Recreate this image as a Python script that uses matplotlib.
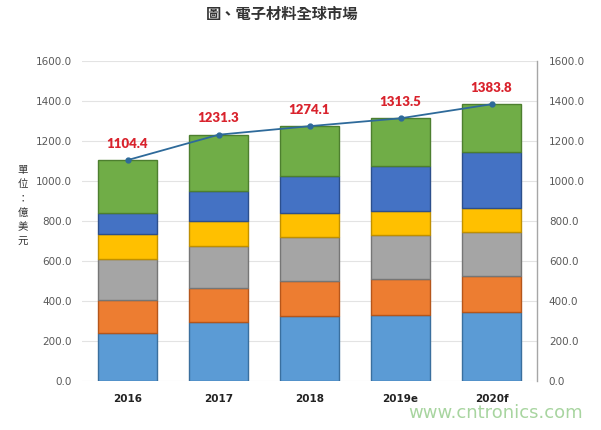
import matplotlib
matplotlib.use("Agg")
import matplotlib.pyplot as plt
import numpy as np

plt.rcParams['font.family'] = ['Noto Sans CJK TC', 'DejaVu Sans']

categories = ["2016", "2017", "2018", "2019e", "2020f"]
s1 = [242, 297, 325, 330, 347]      # light blue
s2 = [163, 170, 175, 178, 178]      # orange
s3 = [203, 208, 218, 222, 218]      # gray
s4 = [127, 125, 120, 122, 120]      # yellow
s5 = [106, 152, 187, 225, 284]      # blue
totals = [1104.4, 1231.3, 1274.1, 1313.5, 1383.8]
ticks = [0, 200, 400, 600, 800, 1000, 1200, 1400, 1600]

series = [s1, s2, s3, s4, s5]
s6 = [t - sum(s[i] for s in series) for i, t in enumerate(totals)]  # green remainder
series.append(s6)
colors = ["#5B9BD5", "#ED7D31", "#A5A5A5", "#FFC000", "#4472C4", "#70AD47"]
edges = ["#3A6F9E", "#B5561B", "#767676", "#C09000", "#2C4F8C", "#4D7F2F"]

fig = plt.figure(figsize=(6.01, 4.30), dpi=100)
ax = fig.add_axes([82/601, 1 - 381/430, (537-82)/601, 320/430])
x = np.arange(len(categories))
bottom = np.zeros(len(categories))
for vals, c, e in zip(series, colors, edges):
    ax.bar(x, vals, bottom=bottom, width=0.64, color=c, edgecolor=e, linewidth=1.0, zorder=3)
    bottom += np.array(vals)

ax.set_xlim(-0.5, len(categories) - 0.5)
ax.set_ylim(0, 1600)
ax.set_yticks(ticks)
ax.set_yticklabels([f"{t:.1f}" for t in ticks], fontsize=7.5, color="#595959", family="DejaVu Sans")
ax.set_xticks(x)
ax.set_xticklabels(categories, fontsize=7.5, fontweight="bold", color="#222222", family="DejaVu Sans")
ax.tick_params(axis="x", length=0, pad=9)
ax.tick_params(axis="y", length=0, pad=7.5)
ax.grid(axis="y", color="#E3E3E3", linewidth=0.8, zorder=0)
for sp in ["left", "top", "bottom", "right"]:
    ax.spines[sp].set_visible(False)

ax2 = ax.twinx()
ax2.set_ylim(0, 1600)
ax2.set_yticks(ticks)
ax2.set_yticklabels([f"{t:.1f}" for t in ticks], fontsize=7.5, color="#595959", family="DejaVu Sans")
ax2.tick_params(axis="y", length=0, pad=8.5)
for sp in ["left", "top", "bottom"]:
    ax2.spines[sp].set_visible(False)
ax2.spines["right"].set_color("#A6A6A6")
ax2.spines["right"].set_linewidth(1.0)
ax2.plot(x, totals, color="#2E6A9A", linewidth=1.3, marker="o", markersize=3.5, zorder=5)
for xi, t in zip(x, totals):
    ax2.annotate(f"{t:.1f}", (xi, t), xytext=(0, 7.5), textcoords="offset points",
                 ha="center", va="bottom", color="#D9232D", fontsize=9.5, fontweight="heavy",
                 family=["Lato", "DejaVu Sans"])

fig.text(282/601, 1 - 14/430, "圖、電子材料全球市場", ha="center", va="center",
         fontsize=11, fontweight="bold", color="#333333")
fig.text(23/601, 1 - 206/430, "單\n位\n：\n億\n美\n元", ha="center", va="center",
         fontsize=7.5, color="#333333", linespacing=1.55)
fig.text(496/601, 1 - 413/430, "www.cntronics.com", ha="center", va="center",
         fontsize=13, color="#A8D5A0", family="DejaVu Sans")

fig.savefig("out.png", dpi=100)
